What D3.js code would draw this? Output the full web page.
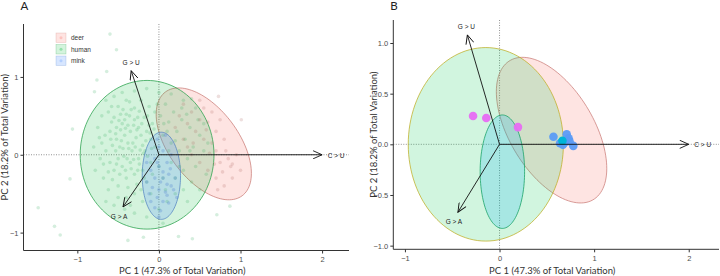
<!DOCTYPE html>
<html lang="en">
<head>
    <meta charset="UTF-8">
    <title>PCA</title>
    <script src="https://cdn.jsdelivr.net/npm/d3@7"></script>
    <style>
        body { margin: 0; background: #fff; }
        text { font-family: "Liberation Sans", Arial, sans-serif; }
        .title { font-family: Lato, "Open Sans", sans-serif; }
    </style>
</head>
<body>
<script>
    // loadings (arrows)
    const loadings = [
        ['G > U', -0.34, 1.08],
        ['G > A', -0.44, -0.67],
        ['C > U', 2.0, 0]
    ]
    // ellipses: group, cx, cy, semi-axis vector a, semi-axis vector b (data units)
    const ellipses = [
        ['deer', 0.55, 0.14, 0.47, -0.667, 0.346, 0.268],
        ['human', -0.145, 0.0, 0.82, 0, 0, 0.955],
        ['mink', 0.03, -0.27, 0.235, 0, 0, 0.56]
    ]
    const groups = ['deer', 'human', 'mink']

    // panel A samples
    const humanPts = [[-0.62,0.55],[-0.55,0.48],[-0.5,0.62],[-0.45,0.4],[-0.4,0.52],[-0.35,0.3],[-0.3,0.45],[-0.6,0.3],[-0.52,0.2],[-0.48,0.1],
        [-0.42,0.25],[-0.38,0.15],[-0.33,0.05],[-0.28,0.22],[-0.25,0.35],[-0.2,0.12],[-0.18,0.48],[-0.15,0.3],[-0.1,0.2],[-0.08,0.4],
        [-0.05,0.1],[-0.65,0.05],[-0.7,0.15],[-0.72,-0.05],[-0.6,-0.1],[-0.55,-0.2],[-0.5,-0.05],[-0.45,-0.15],[-0.4,-0.3],[-0.35,-0.1],
        [-0.3,-0.25],[-0.25,-0.05],[-0.2,-0.2],[-0.15,-0.35],[-0.1,-0.1],[-0.58,0.42],[-0.47,0.32],[-0.44,0.58],[-0.36,0.68],[-0.3,0.6],
        [-0.22,0.7],[-0.12,0.62],[-0.05,0.55],[0.02,0.5],[0.08,0.65],[0.12,0.42],[0.18,0.55],[0.22,0.3],[0.28,0.45],[0.32,0.2],
        [0.38,0.35],[0.42,0.1],[0.15,0.15],[0.1,0.3],[0.05,0.25],[0.25,0.05],[0.35,-0.05],[0.45,-0.15],[0.3,-0.2],[0.2,-0.3],
        [0.15,-0.1],[0.4,-0.35],[0.5,0.25],[0.55,0.05],[-0.68,-0.3],[-0.62,-0.45],[-0.5,-0.4],[-0.4,-0.55],[-0.3,-0.5],[-0.2,-0.6],
        [-0.1,-0.5],[0.0,-0.7],[0.1,-0.6],[0.2,-0.5],[0.3,-0.45],[-0.75,0.35],[-0.8,0.1],[-0.78,-0.2],[-0.7,0.5],[-0.65,0.7],
        [-0.55,0.75],[-0.45,0.8],[-0.3,0.82],[-0.15,0.85],[0.0,0.8],[0.15,0.78],[0.3,0.7],[-0.58,0.62],[-0.52,0.35],[-0.42,0.45],
        [-0.38,0.38],[-0.32,0.15],[-0.27,0.32],[-0.22,0.25],[-0.17,0.05],[-0.12,0.38],[-0.57,0.12],[-0.53,0.05],[-0.46,0.18],[-0.43,-0.02],
        [-0.37,0.08],[-0.34,-0.18],[-0.29,0.1],[-0.24,-0.12],[-0.19,0.02],[-0.62,-0.22],[-0.57,-0.32],[-0.48,-0.25],[-0.38,-0.42],[-0.27,-0.38],
        [-0.42,-0.7],[-0.3,-0.75],[-0.15,-0.8],[0.05,-0.88],[-0.55,-0.65],[-0.65,-0.6],[0.05,-0.3],[0.0,-0.15],[0.08,-0.45],[0.12,0.05],
        [0.48,0.45],[0.45,0.6],[0.4,0.72],[0.55,0.4],[0.6,0.15],[0.58,-0.25],[0.5,-0.45],[0.35,-0.6],
        [-0.49,0.44],[-0.41,0.34],[-0.36,0.5],[-0.31,0.38],[-0.26,0.48],[-0.21,0.4],[-0.16,0.18],[-0.11,0.28],[-0.06,0.33],[-0.53,0.27],
        [-0.44,0.08],[-0.39,-0.05],[-0.31,-0.06],[-0.23,0.06],[-0.14,-0.02],[-0.09,0.08],[-0.47,0.52],[-0.34,0.58],[-0.24,0.56],[-0.14,0.5],
        [-0.59,0.2],[-0.66,0.25],[-0.68,-0.12],[-0.52,-0.12],[-0.41,-0.2],[-0.26,-0.2],[-0.18,-0.3],[-0.08,-0.25],[0.06,0.4],[0.2,0.18],
        [0.28,0.6],[0.34,0.52],[-0.02,0.65],[-0.4,0.7],[-0.5,-0.55],[-0.35,-0.65],[-0.22,-0.45],[0.25,-0.15],[0.38,0.05],[-0.73,0.22],
        [-0.6,1.55],[-0.52,1.35],[-0.76,0.96],[-0.64,1.07],[-1.48,-0.68],[-1.28,-0.92],[-1.21,-1.03],[-1.09,-0.31],[-1.06,0.33],
        [-0.38,-1.1],[-0.19,-1.06],[0.24,-1.05],[0.41,-1.08],[0.71,-0.77],[0.87,-0.66],[-0.79,0.81]]
    const deerPts = [[0.3,0.65],[0.4,0.55],[0.5,0.45],[0.6,0.42],[0.7,0.3],[0.8,0.2],[0.85,-0.05],[0.9,-0.12],[0.88,-0.15],[0.75,-0.1],
        [0.7,0.05],[0.65,0.15],[0.55,0.2],[0.45,0.3],[0.35,0.4],[0.3,0.2],[0.4,0.0],[0.5,-0.1],[0.6,-0.2],[0.7,-0.3],
        [0.8,-0.4],[0.72,-0.45],[0.9,-0.3],[0.95,0.0],[1.0,-0.2],[0.65,0.55],[0.75,0.45],[0.55,0.6],[0.25,0.5],[0.2,0.35],
        [0.42,0.15],[0.62,0.02],[0.82,0.05],[0.5,0.7],[0.35,0.1],[0.78,-0.22],[0.58,0.32],[0.68,-0.12],[0.73,0.75],[1.01,0.45]]
    const minkPts = [[0.0,0.1],[0.05,0.05],[-0.05,-0.05],[0.1,-0.1],[0.0,-0.15],[-0.1,-0.2],[0.05,-0.22],[0.12,-0.25],[-0.05,-0.3],[0.02,-0.35],
        [0.1,-0.38],[0.15,-0.4],[-0.08,-0.42],[0.0,-0.45],[0.08,-0.48],[0.18,-0.45],[-0.12,-0.5],[-0.02,-0.55],[0.05,-0.6],[0.12,-0.62],
        [-0.05,-0.68],[0.02,-0.72],[0.08,0.25],[-0.02,0.2],[0.15,0.0],[-0.15,-0.1],[0.2,-0.3],[-0.15,-0.35],[0.1,-0.52],[0.05,-0.3],
        [-0.02,-0.1],[0.14,-0.18],[0.22,-0.55],[-0.1,-0.6],[0.0,-0.8]]

    // panel B samples
    const magentaPts = [[-0.28,0.28],[-0.14,0.26],[0.195,0.17]]
    const bluePts = [[0.57,0.075],[0.71,0.10],[0.73,0.06],[0.69,0.02],[0.64,0.01],[0.67,-0.005],[0.78,-0.015],[0.74,0.03]]
    const cyanPts = [[0.665,0.035]]

    const xTicks = [-1, 0, 1, 2]
    const yTicksA = [-1, 0, 1]
    const yTicksB = [-1, -0.5, 0, 0.5, 1]

    const [width, height] = [720, 276]
    const svg = d3.select('body').append('svg')
        .attr('width', width).attr('height', height)

    svg.append('defs').append('marker')
        .attr('id', 'arr')
        .attr('viewBox', '0 0 10 10')
        .attr('refX', 10).attr('refY', 5)
        .attr('markerWidth', 10).attr('markerHeight', 9)
        .attr('markerUnits', 'userSpaceOnUse')
        .attr('orient', 'auto')
        .append('path')
            .attr('d', 'M0,0.5 L10,5 L0,9.5')
            .attr('fill', 'none')
            .attr('stroke', '#111')
            .attr('stroke-width', 1)

    const panels = [
        {
            tag: 'A', left: 23.5, right: 349, top: 24, bottom: 250.5,
            xd: [-1.66, 2.33], yd: [-1.23, 1.68], yTicks: yTicksA, fmt: d3.format('d'),
            ell: {
                deer: ['rgba(248,118,109,0.2)', 'rgba(196,110,104,0.75)'],
                human: ['rgba(0,186,56,0.17)', 'rgba(40,160,75,0.85)'],
                mink: ['rgba(97,156,255,0.25)', 'rgba(70,120,190,0.75)']
            },
            labelOff: { 'G > U': [0, -6], 'G > A': [-4, 12], 'C > U': [14, 3] }
        },
        {
            tag: 'B', left: 393.3, right: 719, top: 20, bottom: 249.3,
            xd: [-1.123, 2.32], yd: [-1.036, 1.227], yTicks: yTicksB, fmt: d3.format('.1f'),
            ell: {
                deer: ['rgba(248,118,109,0.2)', 'rgba(200,120,115,0.8)'],
                human: ['rgba(0,200,80,0.18)', 'rgba(190,175,40,0.85)'],
                mink: ['rgba(0,176,246,0.2)', 'rgba(20,160,100,0.85)']
            },
            labelOff: { 'G > U': [-1, -6], 'G > A': [-4, 12], 'C > U': [14, 3] }
        }
    ]

    const colours = { deer: '#F8766D', human: '#00BA38', mink: '#619CFF' }

    const renderPanel = (p) => {
        const x = d3.scaleLinear().domain(p.xd).range([p.left, p.right])
        const y = d3.scaleLinear().domain(p.yd).range([p.bottom, p.top])
        const g = svg.append('g')

        // zero lines
        g.append('line')
            .attr('x1', p.left).attr('x2', p.right)
            .attr('y1', y(0)).attr('y2', y(0))
            .attr('stroke', '#777').attr('stroke-width', 0.8).attr('stroke-dasharray', '1,1.5')
        g.append('line')
            .attr('x1', x(0)).attr('x2', x(0))
            .attr('y1', p.top).attr('y2', p.bottom)
            .attr('stroke', '#777').attr('stroke-width', 0.8).attr('stroke-dasharray', '1,1.5')

        // ellipses
        const angles = d3.range(0, 2 * Math.PI, Math.PI / 60)
        const line = d3.line().curve(d3.curveLinearClosed)
        ellipses.forEach(([grp, cx, cy, ax, ay, bx, by]) => {
            const pts = angles.map(t => [
                x(cx + ax * Math.cos(t) + bx * Math.sin(t)),
                y(cy + ay * Math.cos(t) + by * Math.sin(t))
            ])
            g.append('path').attr('d', line(pts))
                .attr('fill', p.ell[grp][0])
                .attr('stroke', p.ell[grp][1])
                .attr('stroke-width', 0.9)
        })

        // points
        const dots = (data, fill, r, op) => {
            g.append('g').selectAll('circle').data(data).join('circle')
                .attr('cx', d => x(d[0])).attr('cy', d => y(d[1]))
                .attr('r', r).attr('fill', fill).attr('fill-opacity', op)
        }
        if (p.tag === 'A') {
            dots(humanPts, '#2fa85a', 1.8, 0.2)
            dots(deerPts, '#a8605a', 1.8, 0.2)
            dots(minkPts, '#4a7fd0', 1.8, 0.28)
        } else {
            dots(magentaPts, '#E76BF3', 4.3, 0.95)
            dots(bluePts, '#5B9BF5', 4.3, 0.95)
            dots(cyanPts, '#00B5D8', 4.3, 1)
        }

        // arrows
        loadings.forEach(([name, lx, ly]) => {
            g.append('line')
                .attr('x1', x(0)).attr('y1', y(0))
                .attr('x2', x(lx)).attr('y2', y(ly))
                .attr('stroke', '#111').attr('stroke-width', 0.9)
                .attr('marker-end', 'url(#arr)')
            const off = p.labelOff[name]
            g.append('text')
                .attr('x', x(lx) + off[0]).attr('y', y(ly) + off[1])
                .attr('text-anchor', 'middle')
                .attr('font-size', 6.5).attr('fill', '#222')
                .text(name)
        })

        // axes
        const xAxis = d3.axisBottom(x).tickValues(xTicks).tickSize(3).tickPadding(3).tickFormat(d3.format('d'))
        const gx = g.append('g').attr('transform', `translate(0, ${p.bottom})`).call(xAxis)
        gx.select('.domain').attr('d', `M${p.left},0H${p.right}`)
        const yAxis = d3.axisLeft(y).tickValues(p.yTicks).tickSize(3).tickPadding(2).tickFormat(p.fmt)
        const gy = g.append('g').attr('transform', `translate(${p.left}, 0)`).call(yAxis)
        gy.select('.domain').attr('d', `M0,${p.top}V${p.bottom}`)
        g.selectAll('.domain').attr('stroke', '#333').attr('stroke-width', 1)
        g.selectAll('.tick line').attr('stroke', '#333')
        g.selectAll('.tick text').attr('font-size', 7.5).attr('fill', '#4d4d4d')
            .attr('font-family', '"Liberation Sans", Arial, sans-serif')

        // titles
        const mid = (p.left + p.right) / 2
        g.append('text').attr('class', 'title')
            .attr('x', mid - 4).attr('y', 273.5)
            .attr('text-anchor', 'middle').attr('font-size', 9.5).attr('fill', '#333')
            .text('PC 1 (47.3% of Total Variation)')
        g.append('text').attr('class', 'title')
            .attr('transform', `translate(${p.left - 16}, ${(p.top + p.bottom) / 2}) rotate(-90)`)
            .attr('text-anchor', 'middle').attr('font-size', 9.5).attr('fill', '#333')
            .text('PC 2 (18.2% of Total Variation)')
        g.append('text').attr('class', 'title')
            .attr('x', p.left - 3).attr('y', 9.5)
            .attr('font-size', 11.5).attr('fill', '#222')
            .text(p.tag)
    }

    panels.forEach(renderPanel)

    // legend of panel A
    const legend = svg.append('g').attr('transform', 'translate(56, 33)')
    groups.forEach((grp, i) => {
        const row = legend.append('g').attr('transform', `translate(0, ${i * 11.5})`)
        row.append('rect').attr('width', 10).attr('height', 9.5)
            .attr('fill', panels[0].ell[grp][0])
            .attr('stroke', panels[0].ell[grp][1]).attr('stroke-width', 0.5).attr('stroke-opacity', 0.5)
        row.append('circle').attr('cx', 5).attr('cy', 4.75).attr('r', 1.5)
            .attr('fill', colours[grp]).attr('fill-opacity', 0.3)
        row.append('text').attr('x', 15).attr('y', 7)
            .attr('font-size', 6.5).attr('fill', '#333').text(grp)
    })
</script>
</body>
</html>
